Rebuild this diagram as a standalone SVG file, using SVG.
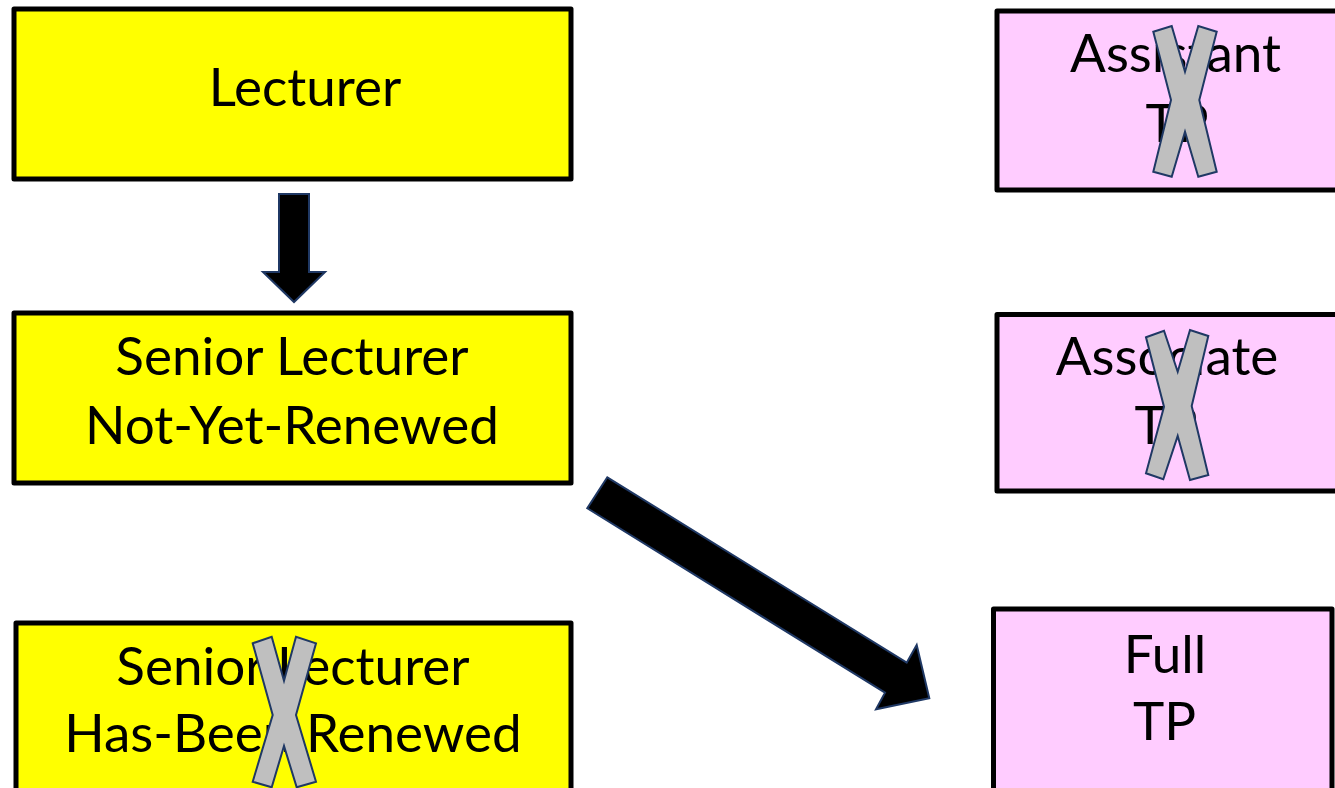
<svg xmlns="http://www.w3.org/2000/svg" width="1335" height="788" viewBox="0 0 1335 788">
<style>
.yb{fill:#FFFF00;stroke:#000;stroke-width:5;stroke-linejoin:round}
.pb{fill:#FFCCFF;stroke:#000;stroke-width:5;stroke-linejoin:round}
.t{font-family:Lato,"Open Sans","Liberation Sans",sans-serif;font-size:53px;fill:#000;text-anchor:middle}
.x{fill:#BFBFBF;stroke:#1F3864;stroke-width:2;stroke-linejoin:miter}
.ar{fill:#000;stroke:#1F3864;stroke-width:2;stroke-linejoin:miter}
</style>
<rect width="1335" height="788" fill="#fff"/>
<g id="lecturer">
<rect class="yb" x="14" y="9" width="557" height="170"/>
<text class="t" x="305" y="106">Lecturer</text>
</g>
<g id="senior-not-renewed">
<rect class="yb" x="14" y="313" width="557" height="170"/>
<text class="t" x="292" y="375">Senior Lecturer</text>
<text class="t" x="292" y="444">Not-Yet-Renewed</text>
</g>
<g id="senior-renewed">
<rect class="yb" x="16" y="623" width="555" height="200"/>
<text class="t" x="293" y="685">Senior Lecturer</text>
<text class="t" x="293" y="752">Has-Been Renewed</text>
<polygon class="x" points="252.7,643.3 271.7,636.7 284,680.7 296,636.7 316,643.3 296,715 316,781.7 296.7,787.3 284,746 271.7,787.3 252.7,781.7 272.7,715"/>
</g>
<g id="assistant-tp">
<rect class="pb" x="997" y="11" width="360" height="179"/>
<text class="t" x="1175.5" y="72">Assistant</text>
<text class="t" x="1177" y="142">TP</text>
<polygon class="x" points="1153.3,31.7 1171.7,26 1185,71.7 1198.3,26 1216.7,31.7 1199.3,100 1216.7,171.7 1198.3,176.7 1185,131.7 1171.7,176.7 1153.3,171.7 1171,100"/>
</g>
<g id="associate-tp">
<rect class="pb" x="997" y="314.5" width="360" height="176.5"/>
<text class="t" x="1167" y="375">Associate</text>
<text class="t" x="1166" y="444">TP</text>
<polygon class="x" points="1146,337.3 1164,330.7 1177.7,371.7 1190,330 1208.3,336 1191.7,406 1208.3,475 1190,480 1177.7,436 1163.3,479.3 1146,473.3 1164,406.7"/>
</g>
<g id="full-tp">
<rect class="pb" x="993.5" y="609" width="338.5" height="220"/>
<text class="t" x="1165" y="673">Full</text>
<text class="t" x="1164.5" y="740">TP</text>
</g>
<g id="connectors">
<polygon class="ar" points="279,194 309,194 309,272 325,272 294,302 263,272 279,272"/>
<polygon class="ar" points="607.3,477.3 906.7,662.7 916.7,645 929.3,698.3 876,709.3 885,692.7 587.3,508.3"/>
</g>
</svg>
